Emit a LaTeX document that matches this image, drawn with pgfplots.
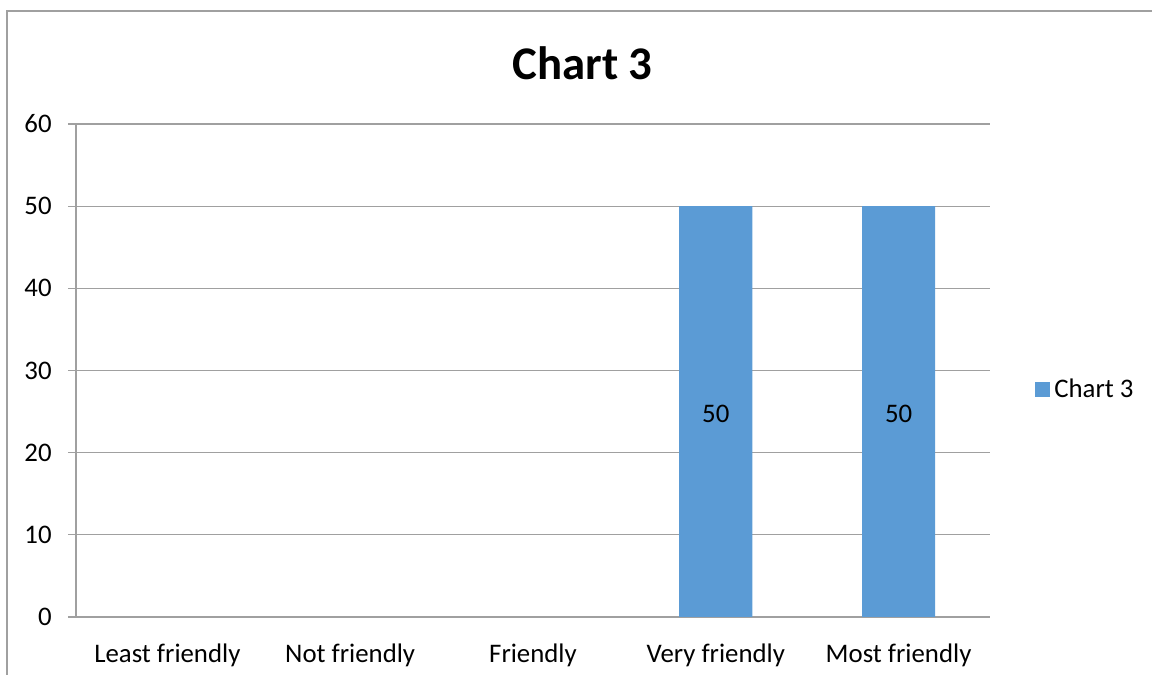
\documentclass[border=0pt]{standalone}
\usepackage{fontspec}
\setmainfont{Carlito}
\usepackage{pgfplots}
\pgfplotsset{compat=1.18}

\definecolor{barblue}{HTML}{5B9BD5}
\definecolor{linegray}{HTML}{A0A0A0}

\begin{document}
\begin{tikzpicture}
% page frame
\useasboundingbox (0,0) rectangle (576pt,337.5pt);
\begin{scope}
  \clip (0,0) rectangle (576pt,337.5pt);
  \draw[linegray, line width=0.8pt] (3.5pt,-5pt) -- (3.5pt,332pt) -- (600pt,332pt);
\end{scope}

% title
\node[anchor=base, font=\fontsize{23.4}{26}\selectfont\bfseries] at (291.25pt,297.8pt) {Chart 3};

\begin{axis}[
  at={(38pt,29pt)}, anchor=south west,
  scale only axis,
  width=457pt, height=246.5pt,
  xmin=-0.5, xmax=4.5,
  ymin=0, ymax=60,
  ytick={0,10,...,60},
  xtick={0,1,2,3,4},
  xticklabels={Least friendly, Not friendly, Friendly, Very friendly, Most friendly},
  major x tick style={draw=none},
  extra x ticks={-0.5,0.5,1.5,2.5,3.5,4.5},
  extra x tick labels={},
  extra x tick style={tick align=outside, major tick length=4pt, tick style={linegray, line width=0.6pt}},
  tick align=outside,
  major tick length=4pt,
  ytick style={linegray, line width=0.6pt},
  ymajorgrids,
  grid style={linegray, line width=0.6pt},
  axis line style={linegray, line width=0.6pt},
  axis x line*=bottom,
  axis y line*=left,
  separate axis lines,
  /pgf/number format/assume math mode=true,
  tick label style={font=\fontsize{13.4}{15}\selectfont, text=black},
  yticklabel style={anchor=east, inner sep=0pt, xshift=-8pt},
  xticklabel style={anchor=base, inner sep=0pt, yshift=-19pt},
  legend style={at={(1,0.5)}, anchor=west, xshift=22.5pt, yshift=-9.5pt,
    draw=none, fill=none, inner sep=0pt, font=\fontsize{13.4}{15}\selectfont,
    legend cell align=left},
  ybar,
  bar width=0.4,
  nodes near coords,
  visualization depends on={y/2 \as \halfval},
  every node near coord/.append style={anchor=center, font=\fontsize{13.4}{15}\selectfont,
    shift={(axis direction cs:0,-\halfval)}, yshift=-1pt},
  clip=false,
]
\addplot[fill=barblue, draw=none,
  legend image code/.code={\fill[barblue] (-1.5pt,-3.75pt) rectangle (6pt,3.75pt);}]
  coordinates {(3,50) (4,50)};
\addlegendentry{Chart 3}
\end{axis}
\end{tikzpicture}
\end{document}
